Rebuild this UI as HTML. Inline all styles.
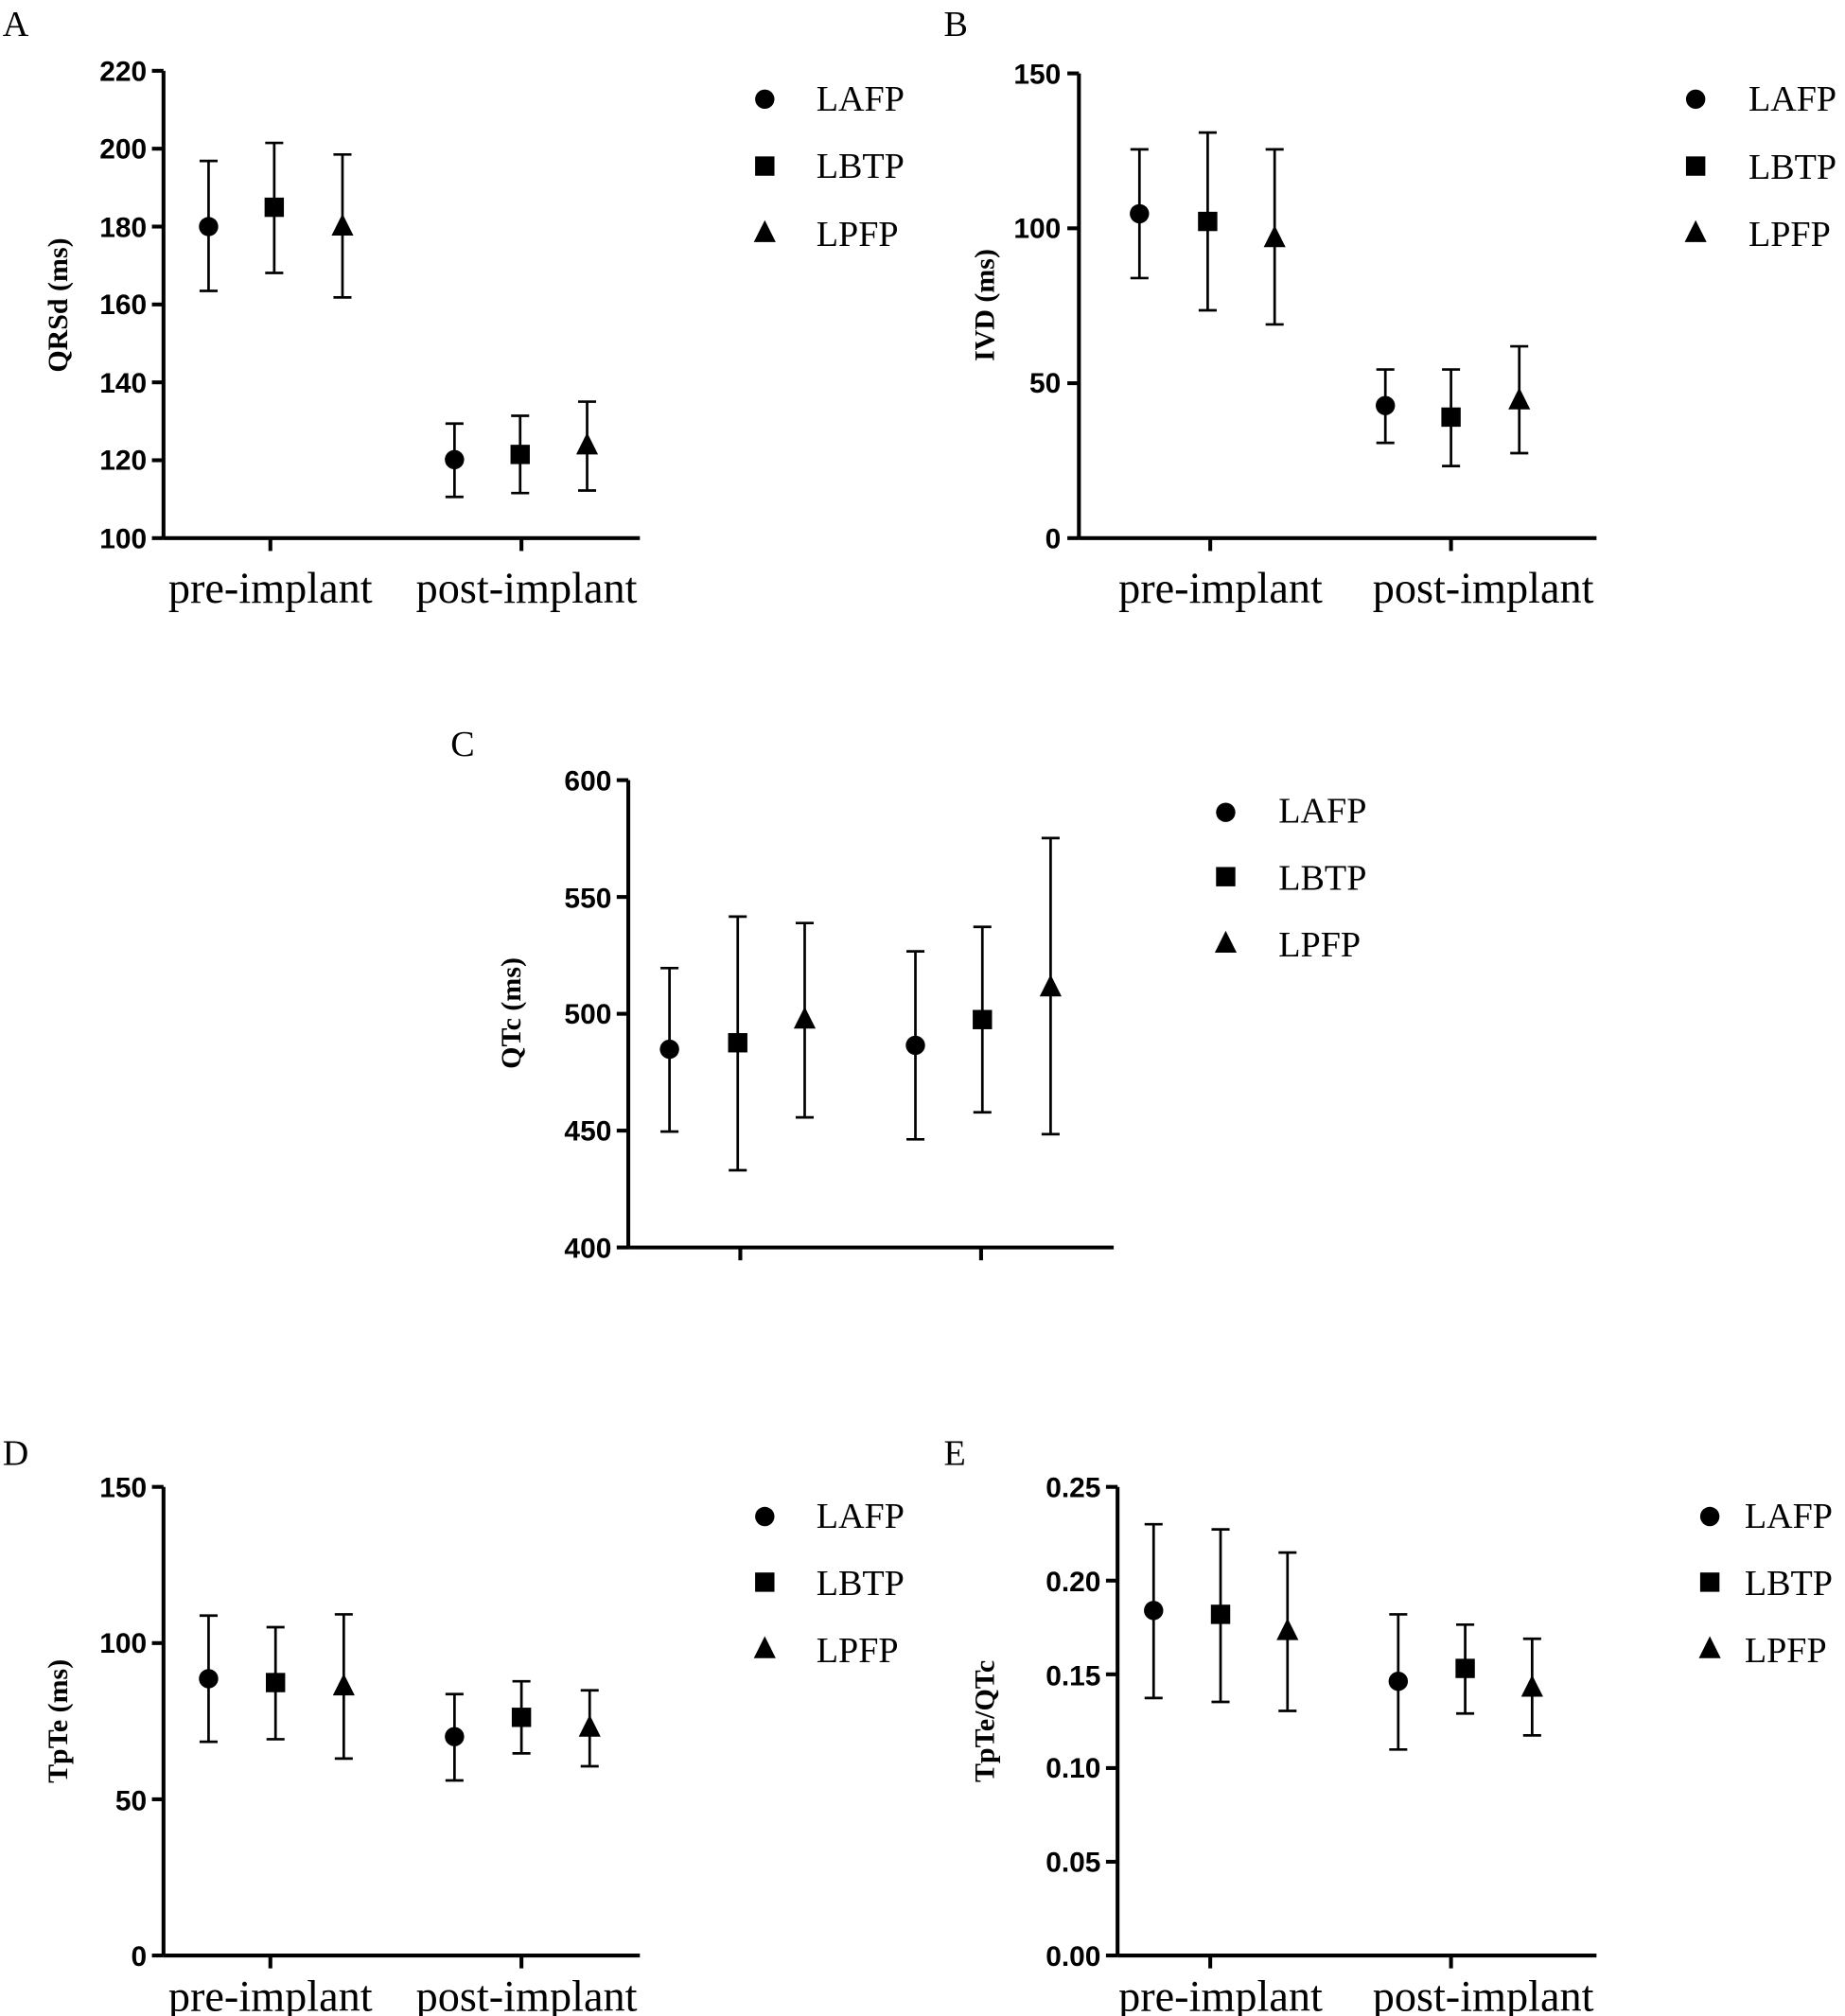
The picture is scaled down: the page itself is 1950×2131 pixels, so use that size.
<!DOCTYPE html>
<html><head><meta charset="utf-8"><style>
html,body{margin:0;padding:0;background:#fff}
svg{display:block}
.t{font-family:"Liberation Sans",sans-serif;font-weight:bold;font-size:22px;fill:#000}
.ax{font-family:"Liberation Serif",serif;font-weight:bold;font-size:22px;fill:#000}
.cat{font-family:"Liberation Serif",serif;font-size:34px;fill:#000}
.lg{font-family:"Liberation Serif",serif;font-size:28px;fill:#000}
.let{font-family:"Liberation Serif",serif;font-size:28px;fill:#000}
</style></head><body>
<svg id="s" width="1950" height="2131" viewBox="0 0 1433 1566" xmlns="http://www.w3.org/2000/svg">
<g id="g" stroke="#000" fill="#000"></g>
<text class="let" x="2" y="28">A</text>
<text class="let" x="733" y="28">B</text>
<text class="let" x="350" y="587">C</text>
<text class="let" x="2" y="1138">D</text>
<text class="let" x="733" y="1138">E</text>
<g class="t" text-anchor="end">
<text x="114" y="63">220</text><text x="114" y="123">200</text><text x="114" y="184">180</text><text x="114" y="244">160</text><text x="114" y="305">140</text><text x="114" y="365">120</text><text x="114" y="426">100</text>
<text x="824" y="65">150</text><text x="824" y="185">100</text><text x="824" y="305">50</text><text x="824" y="426">0</text>
<text x="475" y="614">600</text><text x="475" y="705">550</text><text x="475" y="795">500</text><text x="475" y="886">450</text><text x="475" y="977">400</text>
<text x="114" y="1163">150</text><text x="114" y="1284">100</text><text x="114" y="1406">50</text><text x="114" y="1527">0</text>
<text x="855" y="1163">0.25</text><text x="855" y="1236">0.20</text><text x="855" y="1309">0.15</text><text x="855" y="1381">0.10</text><text x="855" y="1454">0.05</text><text x="855" y="1527">0.00</text>
</g>
<text class="ax" transform="translate(52,237) rotate(-90)" text-anchor="middle">QRSd (ms)</text>
<text class="ax" transform="translate(772,237) rotate(-90)" text-anchor="middle">IVD (ms)</text>
<text class="ax" transform="translate(404,787) rotate(-90)" text-anchor="middle">QTc (ms)</text>
<text class="ax" transform="translate(52,1337) rotate(-90)" text-anchor="middle">TpTe (ms)</text>
<text class="ax" transform="translate(772,1337) rotate(-90)" text-anchor="middle">TpTe/QTc</text>
<g class="cat" text-anchor="middle">
<text x="210" y="468">pre-implant</text><text x="409" y="468">post-implant</text>
<text x="948" y="468">pre-implant</text><text x="1152" y="468">post-implant</text>
<text x="210" y="1562">pre-implant</text><text x="409" y="1562">post-implant</text>
<text x="948" y="1562">pre-implant</text><text x="1152" y="1562">post-implant</text>
</g>
<g class="lg">
<text x="634" y="86">LAFP</text><text x="634" y="138">LBTP</text><text x="634" y="191">LPFP</text>
<text x="1358" y="86">LAFP</text><text x="1358" y="139">LBTP</text><text x="1358" y="191">LPFP</text>
<text x="993" y="639">LAFP</text><text x="993" y="691">LBTP</text><text x="993" y="743">LPFP</text>
<text x="634" y="1187">LAFP</text><text x="634" y="1239">LBTP</text><text x="634" y="1291">LPFP</text>
<text x="1355" y="1187">LAFP</text><text x="1355" y="1239">LBTP</text><text x="1355" y="1291">LPFP</text>
</g>
</svg>
<script>
var g=document.getElementById('g'),h='';
function L(a,b,c,d,w){h+='<line x1="'+a+'" y1="'+b+'" x2="'+c+'" y2="'+d+'" stroke-width="'+(w||2)+'"/>';}
function M(t,x,y){if(t==0)h+='<circle cx="'+x+'" cy="'+y+'" r="7.5" stroke="none"/>';
else if(t==1)h+='<rect x="'+(x-7.5)+'" y="'+(y-7.5)+'" width="15" height="15" stroke="none"/>';
else h+='<polygon points="'+x+','+(y-10)+' '+(x-8.5)+','+(y+7)+' '+(x+8.5)+','+(y+7)+'" stroke="none"/>';}
function P(ax,top,bot,n,right,ticks,pts,lgx,lgy){
 L(ax,top,ax,bot,3);L(ax,bot,right,bot,3);
 for(var i=0;i<n;i++){var y=top+(bot-top)*i/(n-1);L(ax-9,y,ax,y,3);}
 ticks.forEach(function(x){L(x,bot,x,bot+10,3);});
 pts.forEach(function(p,i){L(p[0],p[2],p[0],p[3],2);L(p[0]-7,p[2],p[0]+7,p[2],2);L(p[0]-7,p[3],p[0]+7,p[3],2);M(i%3,p[0],p[1]);});
 lgy.forEach(function(y,i){M(i,lgx,y);});
}
P(127,55,418,7,497,[210,405],[[162,176,125,226],[213,161,111,212],[266,176,120,231],[353,357,329,386],[404,353,323,383],[456,346,312,381]],594,[77,129,181]);
P(838,57,418,4,1240,[940,1127],[[885,166,116,216],[938,172,103,241],[990,185,116,252],[1076,315,287,344],[1127,324,287,362],[1180,311,269,352]],1317,[77,129,181]);
P(488,606,969,5,865,[575,762],[[520,815,752,879],[573,810,712,909],[625,792,717,868],[711,812,739,885],[763,792,720,864],[816,767,651,881]],952,[631,681,733]);
P(127,1155,1519,4,497,[210,405],[[162,1304,1255,1353],[214,1307,1264,1351],[267,1310,1254,1366],[353,1349,1316,1383],[405,1334,1306,1362],[458,1342,1313,1372]],594,[1178,1229,1281]);
P(868,1155,1519,6,1240,[940,1127],[[896,1251,1184,1319],[948,1254,1188,1322],[1000,1267,1206,1329],[1086,1306,1254,1359],[1138,1296,1262,1331],[1190,1311,1273,1348]],1328,[1178,1229,1281]);
g.innerHTML=h;
</script>
</body></html>
